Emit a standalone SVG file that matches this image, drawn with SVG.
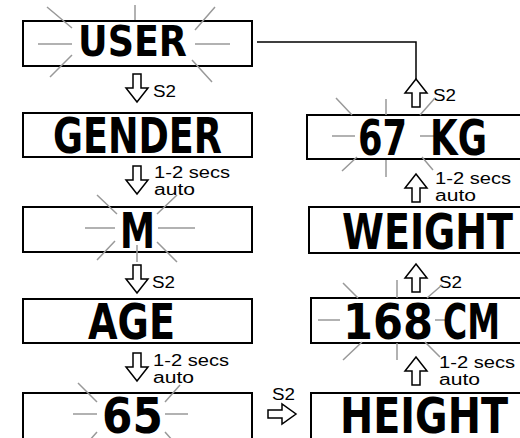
<svg xmlns="http://www.w3.org/2000/svg" width="520" height="438" viewBox="0 0 520 438">
<style>
.box{fill:#fff;stroke:#000;stroke-width:2}
.lcd{font-family:"DejaVu Sans","Liberation Sans",sans-serif;font-weight:bold;font-size:49px;fill:#000}
.ray{stroke:#999;stroke-width:1.5;fill:none}
.lbl{font-family:"Liberation Sans",Arial,sans-serif;font-size:16px;fill:#000}
.arr{fill:#fff;stroke:#000;stroke-width:1.5;stroke-linejoin:miter}
.con{fill:none;stroke:#000;stroke-width:1.5}
</style>
<defs>
<path id="dn" d="M-4,0 H4 V14 H11 L0,28 L-11,14 H-4 Z"/>
<path id="up" d="M0,0 L11,14 H4 V28 H-4 V14 H-11 Z"/>
<path id="rt" d="M0,-4 H14 V-10 L28,0 L14,10 V4 H0 Z"/>
</defs>
<rect width="520" height="438" fill="#fff"/>

<g id="connectors">
<polyline class="con" points="257,42 416,42 416,79"/>
<use href="#dn" x="137" y="74" class="arr"/>
<use href="#dn" x="137" y="166" class="arr"/>
<use href="#dn" x="137" y="265" class="arr"/>
<use href="#dn" x="137" y="353" class="arr"/>
<use href="#up" x="416" y="79" class="arr"/>
<use href="#up" x="416" y="174" class="arr"/>
<use href="#up" x="416" y="264" class="arr"/>
<use href="#up" x="416" y="357" class="arr"/>
<use href="#rt" x="268" y="414" class="arr"/>
<text class="lbl" x="153" y="97" textLength="23" lengthAdjust="spacingAndGlyphs">S2</text>
<text class="lbl" x="154" y="178" textLength="76" lengthAdjust="spacingAndGlyphs">1-2 secs</text>
<text class="lbl" x="154" y="195" textLength="41" lengthAdjust="spacingAndGlyphs">auto</text>
<text class="lbl" x="152" y="288" textLength="23" lengthAdjust="spacingAndGlyphs">S2</text>
<text class="lbl" x="153" y="366" textLength="76" lengthAdjust="spacingAndGlyphs">1-2 secs</text>
<text class="lbl" x="153" y="383" textLength="41" lengthAdjust="spacingAndGlyphs">auto</text>
<text class="lbl" x="433" y="101" textLength="23" lengthAdjust="spacingAndGlyphs">S2</text>
<text class="lbl" x="435" y="184" textLength="76" lengthAdjust="spacingAndGlyphs">1-2 secs</text>
<text class="lbl" x="435" y="201" textLength="41" lengthAdjust="spacingAndGlyphs">auto</text>
<text class="lbl" x="439" y="288" textLength="23" lengthAdjust="spacingAndGlyphs">S2</text>
<text class="lbl" x="439" y="368" textLength="76" lengthAdjust="spacingAndGlyphs">1-2 secs</text>
<text class="lbl" x="439" y="385" textLength="41" lengthAdjust="spacingAndGlyphs">auto</text>
<text class="lbl" x="272" y="400" textLength="23" lengthAdjust="spacingAndGlyphs">S2</text>
</g>

<g id="user">
<rect class="box" x="23" y="21" width="229" height="45"/>
<path class="ray" d="M38,44H72 M195,44H230 M135,5V20 M47,7L72,28 M215,7L195,30 M50,77L72,55 M212,82L192,60"/>
<text class="lcd" style="font-size:42px" transform="matrix(0.869,0,0,1,78,56)" textLength="125.4" lengthAdjust="spacingAndGlyphs">USER</text>
</g>

<g id="gender">
<rect class="box" x="23" y="113" width="229" height="44"/>
<text class="lcd" transform="matrix(0.746,0,0,1,53,153)" textLength="226.5" lengthAdjust="spacingAndGlyphs">GENDER</text>
</g>

<g id="m">
<rect class="box" x="23" y="207" width="229" height="45"/>
<path class="ray" d="M85,228H115 M158,228H195 M97,195L117,214 M177,195L157,214 M97,260L115,241 M177,262L157,242 M137,245V262"/>
<text class="lcd" transform="matrix(0.717,0,0,1,120,248)" textLength="48.8" lengthAdjust="spacingAndGlyphs">M</text>
</g>

<g id="age">
<rect class="box" x="23" y="299" width="229" height="44"/>
<text class="lcd" transform="matrix(0.779,0,0,1,88,339)" textLength="111.7" lengthAdjust="spacingAndGlyphs">AGE</text>
</g>

<g id="age-value">
<rect class="box" x="23" y="393" width="229" height="50"/>
<path class="ray" d="M73,414H97 M165,414H188 M78,383L97,402 M180,385L165,402 M97,432L89,441 M165,432L173,441"/>
<text class="lcd" transform="matrix(0.894,0,0,1,102,433)" textLength="68.2" lengthAdjust="spacingAndGlyphs">65</text>
</g>

<g id="weight-value">
<rect class="box" x="307" y="115" width="230" height="44"/>
<path class="ray" d="M332,136H355 M420,136H435 M386,99V115 M336,98L352,115 M435,98L420,115 M342,171L357,157 M386,160V177 M433,170L422,157"/>
<text class="lcd" transform="matrix(0.72,0,0,1,358,155)"><tspan x="0" y="0" textLength="68.1" lengthAdjust="spacingAndGlyphs">67</tspan> <tspan x="100" y="0" textLength="79.2" lengthAdjust="spacingAndGlyphs">KG</tspan></text>
</g>

<g id="weight">
<rect class="box" x="309" y="207" width="230" height="46"/>
<text class="lcd" transform="matrix(0.776,0,0,1,342,249)" textLength="220.4" lengthAdjust="spacingAndGlyphs">WEIGHT</text>
</g>

<g id="height-value">
<rect class="box" x="311" y="298" width="230" height="45"/>
<path class="ray" d="M343,283L358,298 M397,280V298 M442,285L427,298 M318,320H340 M435,320H450 M343,360L362,342 M397,343V360 M440,357L425,342"/>
<text class="lcd" transform="matrix(0.78,0,0,1,343,339)"><tspan x="0" y="0" textLength="115.4" lengthAdjust="spacingAndGlyphs">168</tspan> <tspan x="128.2" y="0" textLength="73.1" lengthAdjust="spacingAndGlyphs">CM</tspan></text>
</g>

<g id="height">
<rect class="box" x="311" y="393" width="230" height="50"/>
<text class="lcd" transform="matrix(0.81,0,0,1,340,433)" textLength="207.4" lengthAdjust="spacingAndGlyphs">HEIGHT</text>
</g>
</svg>
